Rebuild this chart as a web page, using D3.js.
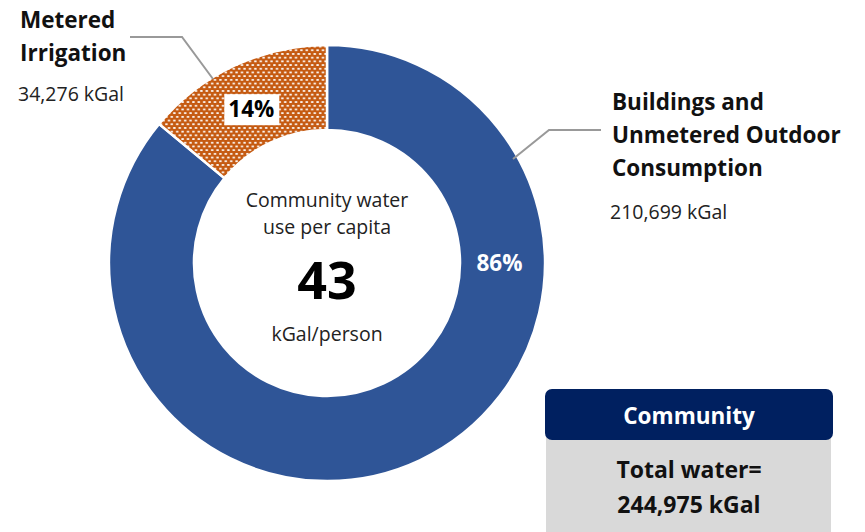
<!DOCTYPE html>
<html>
<head>
<meta charset="utf-8">
<script src="https://cdn.jsdelivr.net/npm/d3@7"></script>
<style>
	body { margin: 0; background: #fff; }
	svg { display: block; font-family: "Open Sans", "Noto Sans", sans-serif; }
</style>
</head>
<body>
<div id="chart"></div>
<script>
// values
var categories = ["Buildings and Unmetered Outdoor Consumption", "Metered Irrigation"];
var values = [210699, 34276];
var labelLines = [["Buildings and", "Unmetered Outdoor", "Consumption"], ["Metered", "Irrigation"]];
var colors = ["#2F5597", "url(#confetti)"];
var perCapita = 43;
var centerLines = ["Community water", "use per capita"];
var unitText = "kGal/person";
var boxTitle = "Community";

var width = 865, height = 532;
var cx = 327, cy = 263;
var outerR = 218, innerR = 133;

var svg = d3.select("#chart").append("svg")
	.attr("width", width)
	.attr("height", height);

// orange with little white dots (excel pattern fill)
var pw = 5.4, ph = 7.4;
var pat = svg.append("defs").append("pattern")
	.attr("id", "confetti")
	.attr("patternUnits", "userSpaceOnUse")
	.attr("width", pw)
	.attr("height", ph);
pat.append("rect").attr("width", pw).attr("height", ph).attr("fill", "#C55A11");
pat.append("ellipse").attr("cx", 1.35).attr("cy", 1.85).attr("rx", 1.55).attr("ry", 0.85).attr("fill", "#fff");
pat.append("ellipse").attr("cx", 4.05).attr("cy", 5.55).attr("rx", 1.55).attr("ry", 0.85).attr("fill", "#fff");

var total = d3.sum(values);
var fmt = d3.format(",");
var pct = function(v){ return Math.round(v / total * 100) + "%"; };

var pie = d3.pie().sort(null)(values);
var arc = d3.arc().innerRadius(innerR).outerRadius(outerR);

var g = svg.append("g").attr("transform", "translate(" + cx + "," + cy + ")");

g.selectAll("path.slice")
	.data(pie)
	.enter().append("path")
		.attr("class", "slice")
		.attr("d", arc)
		.attr("fill", function(d, i){ return colors[i]; })
		.attr("stroke", "#fff")
		.attr("stroke-width", 2.5);

// percent labels
var midR = (innerR + outerR) / 2;
var bigPos = d3.pointRadial(Math.PI / 2, midR - 3);
g.append("text")
	.attr("x", bigPos[0]).attr("y", bigPos[1])
	.attr("dy", "0.35em")
	.attr("text-anchor", "middle")
	.attr("fill", "#fff")
	.attr("font-weight", "bold")
	.attr("font-size", 22.5)
	.text(pct(values[0]));

var smallPos = arc.centroid(pie[1]);
var lbl = g.append("g").attr("transform", "translate(" + (smallPos[0] - 1) + "," + (smallPos[1] + 5) + ")");
lbl.append("rect")
	.attr("x", -27).attr("y", -15)
	.attr("width", 55).attr("height", 31)
	.attr("fill", "#fff");
lbl.append("text")
	.attr("dy", "0.35em")
	.attr("text-anchor", "middle")
	.attr("fill", "#000")
	.attr("font-weight", "bold")
	.attr("font-size", 22.5)
	.text(pct(values[1]));

// centre text
g.selectAll("text.cl")
	.data(centerLines)
	.enter().append("text")
		.attr("class", "cl")
		.attr("y", function(d, i){ return -56 + i * 27; })
		.attr("text-anchor", "middle")
		.attr("font-size", 19.5)
		.attr("fill", "#222")
		.text(function(d){ return d; });
g.append("text")
	.attr("y", 36)
	.attr("text-anchor", "middle")
	.attr("font-size", 52)
	.attr("font-weight", "bold")
	.attr("fill", "#000")
	.text(perCapita);
g.append("text")
	.attr("y", 78)
	.attr("text-anchor", "middle")
	.attr("font-size", 19.5)
	.attr("fill", "#222")
	.text(unitText);

// callouts
var leader = d3.line();
svg.append("path")
	.attr("d", leader([[130, 37], [182, 37], [213, 79]]))
	.attr("fill", "none").attr("stroke", "#999").attr("stroke-width", 2);
svg.append("path")
	.attr("d", leader([[513, 159], [549, 130], [601, 130]]))
	.attr("fill", "none").attr("stroke", "#999").attr("stroke-width", 2);

function callout(x, y, lines, value){
	var t = svg.append("g").attr("transform", "translate(" + x + "," + y + ")");
	t.selectAll("text.name")
		.data(lines)
		.enter().append("text")
			.attr("class", "name")
			.attr("y", function(d, i){ return i * 33; })
			.attr("font-size", 22.5)
			.attr("font-weight", "bold")
			.attr("fill", "#111")
			.text(function(d){ return d; });
	t.append("text")
		.attr("x", -2)
		.attr("y", (lines.length - 1) * 33 + (lines.length > 2 ? 43 : 40))
		.attr("font-size", 19.5)
		.attr("fill", "#222")
		.text(fmt(value) + " kGal");
}
callout(20, 28, labelLines[1], values[1]);
callout(612, 110, labelLines[0], values[0]);

// community box
var bx = 545, bw = 288;
svg.append("rect")
	.attr("x", bx + 1).attr("y", 430)
	.attr("width", bw - 3).attr("height", 110)
	.attr("fill", "#D9D9D9");
svg.append("rect")
	.attr("x", bx).attr("y", 389)
	.attr("width", bw).attr("height", 51)
	.attr("rx", 7)
	.attr("fill", "#002060");
svg.append("text")
	.attr("x", bx + bw / 2).attr("y", 416)
	.attr("dy", "0.35em")
	.attr("text-anchor", "middle")
	.attr("fill", "#fff")
	.attr("font-weight", "bold")
	.attr("font-size", 22.5)
	.text(boxTitle);
svg.selectAll("text.tot")
	.data(["Total water=", fmt(total) + " kGal"])
	.enter().append("text")
		.attr("class", "tot")
		.attr("x", bx + bw / 2)
		.attr("y", function(d, i){ return 478 + i * 35; })
		.attr("text-anchor", "middle")
		.attr("fill", "#111")
		.attr("font-weight", "bold")
		.attr("font-size", 23)
		.text(function(d){ return d; });
</script>
</body>
</html>
